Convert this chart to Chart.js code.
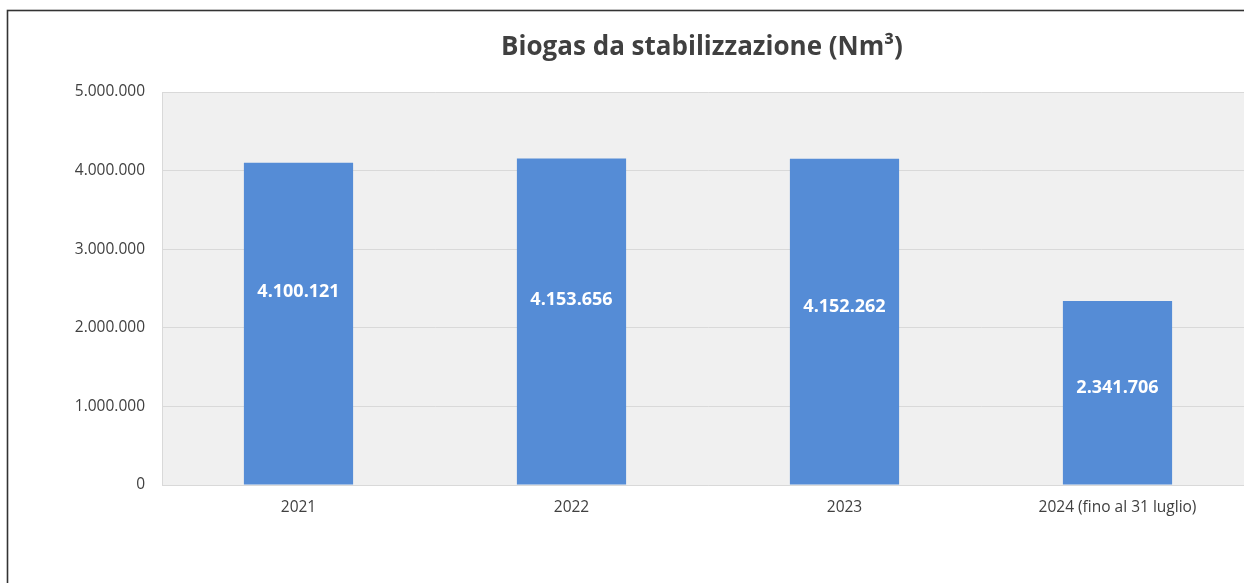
<!DOCTYPE html>
<html>
<head>
<meta charset="utf-8">
<script src="https://cdn.jsdelivr.net/npm/chart.js@4.4.1/dist/chart.umd.min.js"></script>
<style>
  html, body { margin: 0; padding: 0; background: #fff; overflow: hidden; }
  #wrap { position: absolute; left: 0; top: 0; width: 1262px; height: 583px; }
</style>
</head>
<body>
<div id="wrap"><canvas id="biogasChart" width="1262" height="583"></canvas></div>
<script>
// chart data
const anni = ['2021', '2022', '2023', '2024 (fino al 31 luglio)'];
const biogas = [4100121, 4153656, 4152262, 2341706];
const yTicks = [0, 1000000, 2000000, 3000000, 4000000, 5000000];

const FONT = '"Open Sans", sans-serif';

// numbers with dots as thousands separator
function fmt(n) {
  return String(n).replace(/\B(?=(\d{3})+(?!\d))/g, '.');
}

// frame, grey plot background and the title
const sfondo = {
  id: 'sfondo',
  beforeDraw(chart) {
    const { ctx, chartArea } = chart;
    ctx.save();
    ctx.fillStyle = '#f0f0f0';
    ctx.fillRect(chartArea.left, chartArea.top, chartArea.right - chartArea.left, chartArea.bottom - chartArea.top);
    ctx.strokeStyle = '#333';
    ctx.lineWidth = 1.6;
    ctx.strokeRect(7.5, 10.5, 2000, 2000);
    ctx.fillStyle = '#404040';
    ctx.font = 'bold 26px ' + FONT;
    ctx.textAlign = 'center';
    ctx.textBaseline = 'middle';
    ctx.fillText('Biogas da stabilizzazione (Nm\u00B3)', 702, 48);
    ctx.restore();
  }
};

// value labels inside bars
const etichette = {
  id: 'etichette',
  afterDatasetsDraw(chart, args, opts) {
    const { ctx } = chart;
    const meta = chart.getDatasetMeta(0);
    ctx.save();
    ctx.fillStyle = '#fff';
    ctx.font = 'bold 18px ' + FONT;
    ctx.textAlign = 'center';
    ctx.textBaseline = 'middle';
    meta.data.forEach((bar, i) => {
      const y = bar.base - (bar.base - bar.y) * opts.frac[i];
      ctx.fillText(fmt(biogas[i]), bar.x, y);
    });
    ctx.restore();
  }
};

const ctx = document.getElementById('biogasChart').getContext('2d');
new Chart(ctx, {
  type: 'bar',
  data: {
    labels: anni,
    datasets: [{
      data: biogas,
      backgroundColor: '#558cd6',
      barPercentage: 0.4,
      categoryPercentage: 1,
    }],
  },
  options: {
    responsive: false,
    animation: false,
    layout: { padding: { top: 92, right: 8, left: 0, bottom: 0 } },
    plugins: {
      legend: { display: false },
      tooltip: { enabled: false },
      etichette: { frac: [0.6, 0.567, 0.545, 0.527] },
    },
    scales: {
      x: {
        grid: { display: false, drawTicks: false },
        border: { color: '#d9d9d9' },
        ticks: { color: '#404040', font: { family: FONT, size: 15.5 }, padding: 13 },
        afterFit(scale) { scale.height = 98; },
      },
      y: {
        min: 0,
        max: 5000000,
        afterBuildTicks(scale) { scale.ticks = yTicks.map(v => ({ value: v })); },
        grid: { color: '#d9d9d9', drawTicks: false },
        border: { color: '#d9d9d9' },
        ticks: {
          color: '#404040',
          font: { family: FONT, size: 15.5 },
          padding: 17,
          callback: v => fmt(v),
        },
        afterFit(scale) { scale.width = 162; },
      },
    },
  },
  plugins: [sfondo, etichette],
});
</script>
</body>
</html>
